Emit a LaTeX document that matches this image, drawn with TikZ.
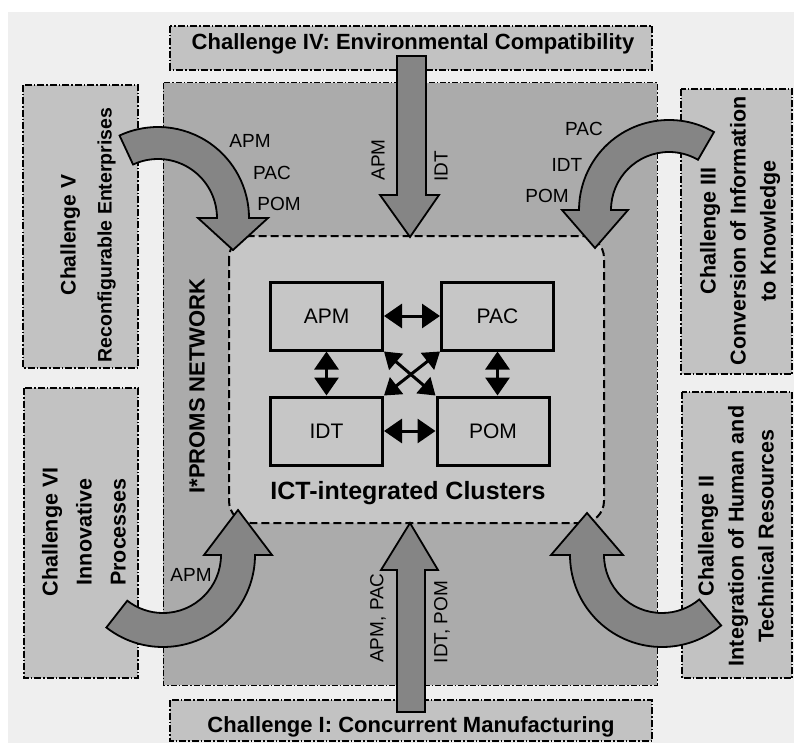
\documentclass[tikz,border=0pt]{standalone}
\usepackage{fontspec}
\setmainfont{Liberation Sans}
\usetikzlibrary{arrows.meta,calc}
\definecolor{bgc}{HTML}{EFEFEF}
\definecolor{netc}{HTML}{ABABAB}
\definecolor{innerc}{HTML}{C6C6C6}
\definecolor{chc}{HTML}{C2C2C2}
\definecolor{arrc}{HTML}{858585}
\tikzset{
 chbox/.style={draw=black, fill=chc, line width=1.6pt, dash pattern=on 7pt off 2pt on 1.5pt off 2pt},
 blockarrow/.style={draw=black, fill=arrc, line width=1.8pt, line join=miter},
 module/.style={draw=black, fill=innerc, line width=3pt, minimum width=112pt, minimum height=68pt, inner sep=0pt, font=\fontsize{21}{25}\selectfont},
 link/.style={line width=3pt, {Triangle[length=18pt,width=24pt]}-{Triangle[length=18pt,width=24pt]}},
 diaglink/.style={line width=3pt, {Triangle[length=16pt,width=21pt]}-{Triangle[length=16pt,width=21pt]}},
 lbl/.style={font=\fontsize{19}{22}\selectfont, inner sep=0pt},
 sidetext/.style={rotate=90, align=center, font=\bfseries\fontsize{21.5}{32}\selectfont, inner sep=0pt},
 titletext/.style={font=\bfseries\fontsize{22}{26}\selectfont, inner sep=0pt},
}
\newcommand\curvedarrow[9]{%
 \draw[blockarrow] ($(#1,#2)+(#5:{#3+#4})$) arc[start angle=#5, end angle=#6, radius={#3+#4}]
  -- ($(#1,#2)+(#6:{#3+#8})$)
  -- ($(#1,#2)+(#6:#3)+({#6+(#9)}:#7)$)
  -- ($(#1,#2)+(#6:{#3-#8})$)
  -- ($(#1,#2)+(#6:{#3-#4})$) arc[start angle=#6, end angle=#5, radius={#3-#4}]
  -- cycle;}
\begin{document}
\begin{tikzpicture}[x=1pt,y=-1pt]
\useasboundingbox (0,0) rectangle (794,743);
\fill[white] (0,0) rectangle (794,743);
\fill[bgc] (8,12) rectangle (794,743);
% network area
\draw[fill=netc, line width=1pt, dash pattern=on 6pt off 2pt on 1.5pt off 2pt] (163,83) rectangle (657,685);
% challenge boxes
\draw[chbox] (170,26) rectangle (652,70);
\draw[chbox] (170,700) rectangle (652,741);
\draw[chbox] (23,85) rectangle (138,368);
\draw[chbox] (24,388) rectangle (138,678);
\draw[chbox] (681,89) rectangle (792,374);
\draw[chbox] (682,392) rectangle (792,678);
% inner cluster area
\draw[fill=innerc, line width=2pt, dash pattern=on 8pt off 4pt, rounded corners=22pt] (229,236) rectangle (604,523);
% modules
\node[module] (apm) at (326.5,316) {APM};
\node[module] (pac) at (497.5,316) {PAC};
\node[module] (idt) at (326.5,431) {IDT};
\node[module] (pom) at (493,431) {POM};
\draw[link] (apm.east) -- (pac.west);
\draw[link] (idt.east) -- (pom.west);
\draw[link] (apm.south) -- (idt.north);
\draw[link] (pac.south) -- (pac.south |- pom.north);
\draw[diaglink] (apm.south east) -- (pom.north west);
\draw[diaglink] (pac.south west) -- (idt.north east);
% straight block arrows
\draw[blockarrow] (397,56) -- (397,195) -- (380,195) -- (410,237) -- (439,195) -- (426,195) -- (426,56) -- cycle;
\draw[blockarrow] (397,712) -- (397,570) -- (381,570) -- (410,523) -- (438,570) -- (425,570) -- (425,712) -- cycle;
% curved block arrows
\curvedarrow{158}{218}{75}{16}{245}{360}{32}{35}{90}
\curvedarrow{669}{210}{74}{16}{300}{180}{38}{33}{-90}
\curvedarrow{163}{555}{75}{17}{128}{0}{45}{34}{-90}
\curvedarrow{662}{555}{75}{17}{50}{180}{42}{36}{90}
% titles
\node[titletext] (t4) at (413,44) {Challenge IV: Environmental Compatibility};
\node[titletext] (t1) at (411,727) {Challenge I: Concurrent Manufacturing};
\node[font=\bfseries\fontsize{25}{30}\selectfont, inner sep=0pt] (ict) at (408,493) {ICT-integrated Clusters};
\node[rotate=90, font=\bfseries\fontsize{22}{26}\selectfont, inner sep=0pt] (net) at (197,386) {I*PROMS NETWORK};
% side texts
\node[sidetext, font=\bfseries\fontsize{21}{36}\selectfont] (t5) at (88,235) {Challenge V\\\fontsize{19.5}{36}\selectfont Reconfigurable Enterprises};
\node[sidetext, font=\bfseries\fontsize{21.5}{34}\selectfont] (t6) at (84,532) {Challenge VI\\Innovative\\Processes};
\node[sidetext, font=\bfseries\fontsize{21.5}{30}\selectfont] (t3) at (740,231) {Challenge III\\Conversion of Information\\to Knowledge};
\node[sidetext, font=\bfseries\fontsize{21.5}{30}\selectfont] (t2) at (736,536) {Challenge II\\Integration of Human and\\Technical Resources};
% arrow labels
\node[lbl, rotate=90] (l1) at (378,160) {APM};
\node[lbl, rotate=90] (l2) at (441,166) {IDT};
\node[lbl, rotate=90] (l3) at (378,618) {APM, PAC};
\node[lbl, rotate=90] (l4) at (442,622) {IDT, POM};
\node[lbl] (l5) at (250,141) {APM};
\node[lbl] (l6) at (272,173) {PAC};
\node[lbl] (l7) at (279,204) {POM};
\node[lbl] (l8) at (584,129) {PAC};
\node[lbl] (l9) at (567,165) {IDT};
\node[lbl] (l10) at (547,196) {POM};
\node[lbl] (l11) at (191,575) {APM};
\end{tikzpicture}
\end{document}
